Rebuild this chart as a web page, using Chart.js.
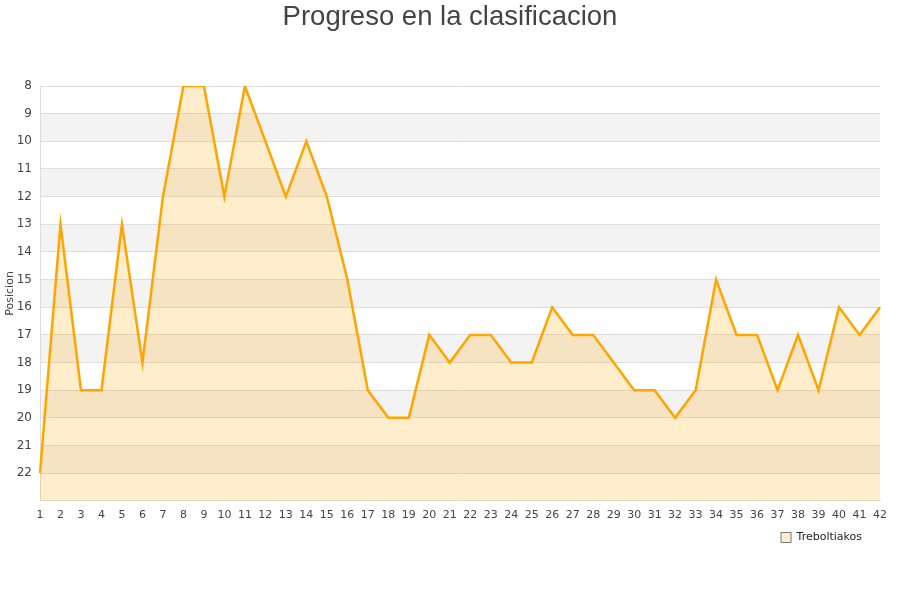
<!DOCTYPE html>
<html>
<head>
<meta charset="utf-8">
<script src="https://cdn.jsdelivr.net/npm/chart.js@4/dist/chart.umd.min.js"></script>
<style>
  html, body { margin: 0; padding: 0; background: #fff; }
  #wrap { width: 900px; height: 600px; }
</style>
</head>
<body>
<div id="wrap"><canvas id="posChart" width="900" height="600"></canvas></div>
<script>
// jornadas y posicion en cada una
const jornadas = [1,2,3,4,5,6,7,8,9,10,11,12,13,14,15,16,17,18,19,20,21,22,23,24,25,26,27,28,29,30,31,32,33,34,35,36,37,38,39,40,41,42];
const posiciones = [22,13,19,19,13,18,12,8,8,12,8,10,12,10,12,15,19,20,20,17,18,17,17,18,18,16,17,17,18,19,19,20,19,15,17,17,19,17,19,16,17,16];
const equipo = 'Treboltiakos';
const posMin = 8;
const posMax = 23;

// bandas grises alternas detras del grafico
const bandas = {
    id: 'bandas',
    beforeDraw(chart) {
        const y = chart.scales.y;
        const area = chart.chartArea;
        const ctx = chart.ctx;
        ctx.save();
        ctx.fillStyle = '#f3f3f3';
        for (let v = posMin + 1; v < posMax; v += 2) {
            const y1 = y.getPixelForValue(v);
            const y2 = y.getPixelForValue(v + 1);
            ctx.fillRect(area.left, y1, area.right - area.left, y2 - y1);
        }
        ctx.restore();
    }
};

// ajustar leyenda (a la izquierda) y titulo (centrado en todo el ancho)
const ajustes = {
    id: 'ajustes',
    afterLayout(chart) {
        if (chart.legend) chart.legend.right -= 16;
        if (chart.titleBlock) {
            chart.titleBlock.left += 10;
            chart.titleBlock.right += 10;
        }
    }
};

document.addEventListener('DOMContentLoaded', function() {
    const ctx = document.getElementById('posChart').getContext('2d');
    new Chart(ctx, {
        type: 'line',
        data: {
            labels: jornadas,
            datasets: [{
                label: equipo,
                data: posiciones,
                borderColor: '#ffa500',
                backgroundColor: 'rgba(255,165,0,0.2)',
                borderWidth: 2.5,
                pointRadius: 0,
                tension: 0,
                fill: { value: posMax }
            }]
        },
        options: {
            responsive: false,
            animation: false,
            layout: { padding: { left: 0, right: 20, top: 0, bottom: 47 } },
            scales: {
                x: {
                    offset: false,
                    grid: { display: false, drawTicks: false },
                    border: { color: '#ddd' },
                    ticks: { color: '#444', font: { family: 'DejaVu Sans', size: 11 }, maxRotation: 0, autoSkip: false, padding: 8 }
                },
                y: {
                    reverse: true,
                    min: posMin,
                    max: posMax,
                    grid: { color: '#dddddd', drawTicks: false },
                    border: { color: '#ddd' },
                    ticks: {
                        stepSize: 1,
                        color: '#444',
                        padding: 8,
                        font: { family: 'DejaVu Sans', size: 12 },
                        callback: v => v === posMax ? '' : v
                    },
                    title: { display: true, text: 'Posicion', color: '#444', font: { family: 'DejaVu Sans', size: 11 }, padding: { top: 4, bottom: 0 } },
                    afterFit: s => { s.width = 40; }
                }
            },
            plugins: {
                title: {
                    display: true,
                    text: 'Progreso en la clasificacion',
                    color: '#444',
                    font: { family: 'Liberation Sans', size: 27.5, weight: 'normal' },
                    padding: { top: 1, bottom: 52 }
                },
                legend: {
                    position: 'bottom',
                    align: 'end',
                    labels: {
                        color: '#222',
                        padding: 2,
                        font: { family: 'DejaVu Sans', size: 11 },
                        boxWidth: 10,
                        boxHeight: 10,
                        generateLabels: chart => [{
                            text: equipo,
                            fillStyle: 'rgba(255,165,0,0.2)',
                            strokeStyle: '#777',
                            lineWidth: 1,
                            fontColor: '#222',
                            datasetIndex: 0
                        }]
                    }
                },
                tooltip: { enabled: false }
            }
        },
        plugins: [bandas, ajustes]
    });
});
</script>
</body>
</html>
